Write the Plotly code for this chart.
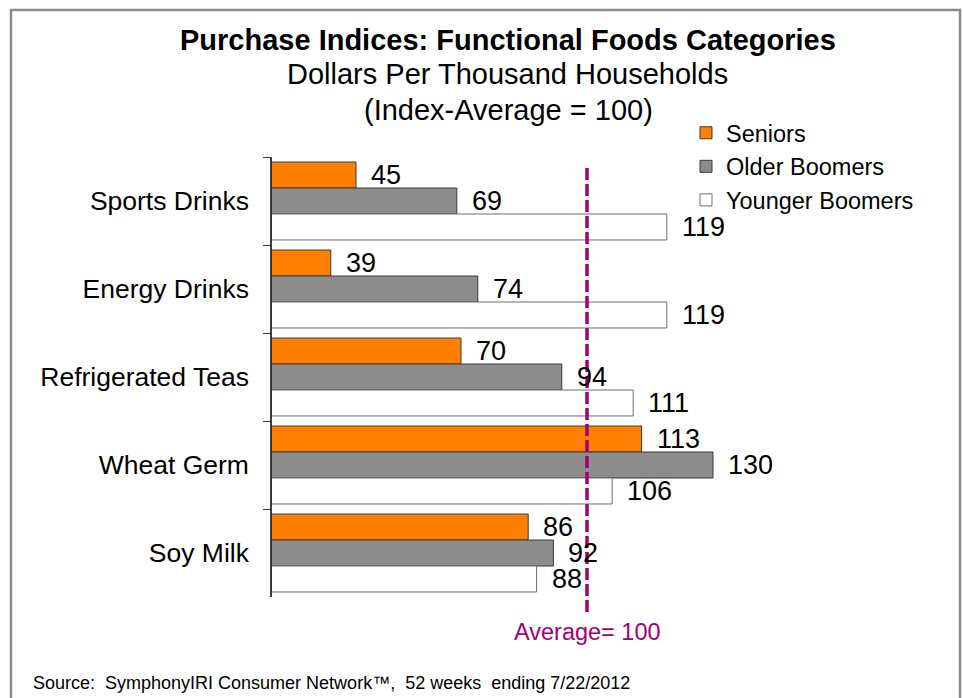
import plotly.graph_objects as go

# data
categories = ["Sports Drinks", "Energy Drinks", "Refrigerated Teas", "Wheat Germ", "Soy Milk"]
seniors = [45, 39, 70, 113, 86]
older_boomers = [69, 74, 94, 130, 92]
younger_boomers = [119, 119, 111, 106, 88]
series_names = ["Seniors", "Older Boomers", "Younger Boomers"]
average = 100

FONT = "Liberation Sans, Arial, sans-serif"
W, H = 963, 698
L, R, T, B = 272, 208, 157, 101
PW, PH = W - L - R, H - T - B


def px(x):  # pixel -> paper x
    return (x - L) / PW


def py(y):  # pixel -> paper y
    return (H - B - y) / PH


fig = go.Figure()

styles = [
    dict(color="#FF7F00", line=dict(color="#3a3a3a", width=1)),
    dict(color="#8C8C8C", line=dict(color="#3a3a3a", width=1)),
    dict(color="#FFFFFF", line=dict(color="#6e6e6e", width=1)),
]
for name, vals, st in zip(series_names, [seniors, older_boomers, younger_boomers], styles):
    fig.add_trace(go.Bar(y=categories, x=vals, name=name, orientation="h",
                         marker=st, hoverinfo="skip"))

# value labels
for i, vals in enumerate([seniors, older_boomers, younger_boomers]):
    for cat, v in zip(categories, vals):
        fig.add_annotation(x=v, y=cat, text=str(v), showarrow=False,
                           xanchor="left", yanchor="middle", xshift=13,
                           yshift=(1 - i) * 26,
                           font=dict(family=FONT, size=27, color="#000000"))

# average line
fig.add_shape(type="line", xref="x", yref="paper", x0=average, x1=average,
              y0=py(612), y1=py(168), layer="above",
              line=dict(color="#A3006F", width=3.5, dash="12px,4px"))
fig.add_annotation(x=average, xref="x", yref="paper", y=py(632), text=f"Average= {average}",
                   showarrow=False, xanchor="center", yanchor="middle",
                   font=dict(family=FONT, size=23.5, color="#A3006F"))

# titles
fig.add_annotation(xref="paper", yref="paper", x=px(508), y=py(40),
                   xanchor="center", yanchor="middle",
                   text="<b>Purchase Indices: Functional Foods Categories</b>",
                   showarrow=False, font=dict(family=FONT, size=29, color="#000000"))
fig.add_annotation(xref="paper", yref="paper", x=px(507), y=py(74),
                   xanchor="center", yanchor="middle",
                   text="Dollars Per Thousand Households",
                   showarrow=False, font=dict(family=FONT, size=29, color="#000000"))
fig.add_annotation(xref="paper", yref="paper", x=px(508), y=py(110),
                   xanchor="center", yanchor="middle",
                   text="(Index-Average = 100)",
                   showarrow=False, font=dict(family=FONT, size=29, color="#000000"))
fig.add_annotation(xref="paper", yref="paper", x=px(31), y=py(683),
                   xanchor="left", yanchor="middle",
                   text="Source:  SymphonyIRI Consumer Network™,  52 weeks  ending 7/22/2012",
                   showarrow=False, font=dict(family=FONT, size=18, color="#000000"))

# outer frame
fig.add_shape(type="rect", xref="paper", yref="paper", x0=px(11), x1=px(960),
              y0=py(760), y1=py(10), line=dict(color="#8C8C8C", width=2.5), layer="below")

fig.update_layout(
    width=W, height=H,
    margin=dict(l=L, r=R, t=T, b=B, autoexpand=False),
    paper_bgcolor="white", plot_bgcolor="white",
    barmode="group", bargap=0.114, bargroupgap=0,
    font=dict(family=FONT, size=26, color="#000000"),
    showlegend=True,
    legend=dict(x=px(686), y=py(111), xanchor="left", yanchor="top",
                font=dict(family=FONT, size=23.5), itemclick=False,
                bgcolor="rgba(0,0,0,0)", tracegroupgap=0),
    xaxis=dict(range=[25, 140], showgrid=False, zeroline=False, showline=False,
               showticklabels=False, ticks=""),
    yaxis=dict(autorange="reversed", showgrid=False, showline=True,
               linecolor="#3a3a3a", linewidth=1.5, ticks="outside",
               tickson="boundaries", ticklen=7, tickcolor="#3a3a3a",
               ticklabelstandoff=16, tickfont=dict(family=FONT, size=26.5)),
)

fig.write_html("out.html", config={"displayModeBar": False},
               post_script="document.body.style.margin='0';")
